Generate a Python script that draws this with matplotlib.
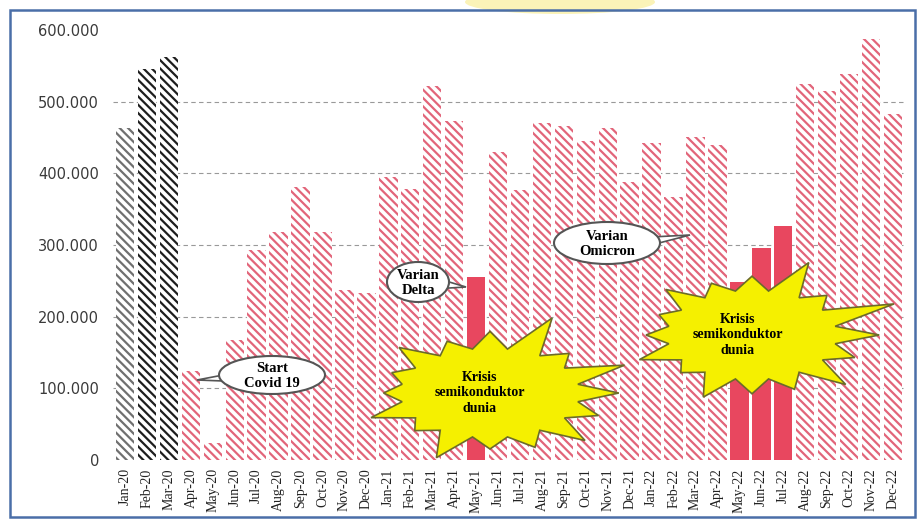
import numpy as np
import matplotlib
matplotlib.use('Agg')
import matplotlib.pyplot as plt
from matplotlib.patches import Ellipse, Polygon, Rectangle

# --- data ---
months = ['Jan-20', 'Feb-20', 'Mar-20', 'Apr-20', 'May-20', 'Jun-20', 'Jul-20', 'Aug-20', 'Sep-20',
          'Oct-20', 'Nov-20', 'Dec-20', 'Jan-21', 'Feb-21', 'Mar-21', 'Apr-21', 'May-21', 'Jun-21',
          'Jul-21', 'Aug-21', 'Sep-21', 'Oct-21', 'Nov-21', 'Dec-21', 'Jan-22', 'Feb-22', 'Mar-22',
          'Apr-22', 'May-22', 'Jun-22', 'Jul-22', 'Aug-22', 'Sep-22', 'Oct-22', 'Nov-22', 'Dec-22']
sales = [463000, 545000, 562000, 124000, 24000, 168000, 293000, 318000, 381000,
         318000, 237000, 233000, 395000, 378000, 522000, 473000, 255000, 430000,
         377000, 470000, 466000, 445000, 463000, 388000, 443000, 367000, 451000,
         440000, 248000, 296000, 327000, 524000, 515000, 538000, 588000, 483000]
# bar style group: 'grey', 'black', 'pink' (hatched) or 'solid'
group = ['grey', 'black', 'black'] + ['pink'] * 13 + ['solid'] + ['pink'] * 11 + ['solid'] * 3 + ['pink'] * 5
yticks = [0, 100000, 200000, 300000, 400000, 500000, 600000]
ytick_labels = ['0', '100.000', '200.000', '300.000', '400.000', '500.000', '600.000']

W, H = 917, 519
plt.rcParams['hatch.linewidth'] = 1.6
fig = plt.figure(figsize=(W / 100, H / 100), dpi=100)
ax = fig.add_axes([113 / W, 1 - 460 / H, (905 - 113) / W, (460 - 30) / H])

styles = {
    'grey': dict(facecolor='white', edgecolor='#707070', hatch='\\\\\\\\'),
    'black': dict(facecolor='white', edgecolor='#1e1e1e', hatch='\\\\\\\\'),
    'pink': dict(facecolor='white', edgecolor='#e2657a', hatch='\\\\\\\\'),
    'solid': dict(facecolor='#e8475f', edgecolor='#e8475f', hatch=None),
}
x = np.arange(len(months))
for xi, v, g in zip(x, sales, group):
    ax.bar(xi, v, width=0.84, linewidth=0, zorder=2, **styles[g])

ax.set_xlim(-0.55, len(months) - 0.45)
ax.set_ylim(0, 600000)
ax.set_yticks(yticks)
ax.set_yticklabels(ytick_labels, fontsize=10.5, color='#3a3a3a', family='DejaVu Sans')
ax.set_xticks(x)
ax.set_xticklabels(months, rotation=90, fontsize=10, family='Liberation Serif', color='#222222')
ax.tick_params(length=0)
ax.tick_params(axis='y', pad=10)
ax.tick_params(axis='x', pad=6)
for s in ax.spines.values():
    s.set_visible(False)
for yv in yticks[1:-1]:
    ax.axhline(yv, color='#999999', linestyle=(0, (4, 3)), linewidth=0.8, zorder=1)


# --- annotation shapes, placed in figure pixels ---
def px(xp, yp):
    return (xp / W, 1 - yp / H)


def bubble(cx, cy, w, h, tip, text):
    bx, by = tip
    tail = Polygon([px(cx + (bx - cx) * 0.3, cy - 5), px(bx, by), px(cx + (bx - cx) * 0.3, cy + 7)],
                   closed=True, transform=fig.transFigure, facecolor='white',
                   edgecolor='#555555', linewidth=1.2, zorder=5)
    fig.add_artist(tail)
    ell = Ellipse(px(cx, cy), w / W, h / H, transform=fig.transFigure, facecolor='white',
                  edgecolor='#555555', linewidth=1.5, zorder=6)
    fig.add_artist(ell)
    fig.text(*px(cx, cy + 1), text, ha='center', va='center', fontsize=10.5, fontweight='bold',
             family='Liberation Serif', linespacing=1.15, zorder=7)


def starburst(cx, cy, rx, ry, outer, text, inner=0.8, tx=0):
    n = len(outer)
    pts = []
    for i in range(n):
        a = 2 * np.pi * i / n
        pts.append(px(cx + rx * outer[i] * np.cos(a), cy - ry * outer[i] * np.sin(a)))
        a2 = a + np.pi / n
        pts.append(px(cx + rx * inner * np.cos(a2), cy - ry * inner * np.sin(a2)))
    star = Polygon(pts, closed=True, transform=fig.transFigure, facecolor='#f5f000',
                   edgecolor='#6b6b2a', linewidth=1.2, zorder=5)
    fig.add_artist(star)
    fig.text(*px(cx + tx, cy), text, ha='center', va='center', fontsize=10, fontweight='bold',
             family='Liberation Serif', linespacing=1.25, zorder=7)


bubble(272, 375, 106, 38, (197, 380), 'Start\nCovid 19')
bubble(418, 282, 62, 40, (466, 287), 'Varian\nDelta')
bubble(607, 243, 106, 42, (690, 235), 'Varian\nOmicron')

star1 = [1.15, 1.3, 1.0, 1.45, 1.1, 1.0, 1.15, 0.95, 0.95, 1.15, 0.95, 1.25, 1.0, 1.05, 1.2, 1.05]
starburst(490, 393, 112, 56, star1, 'Krisis\nsemikonduktor\ndunia', tx=-10)
star2 = [1.2, 1.45, 1.0, 1.4, 1.05, 1.0, 1.15, 0.95, 1.0, 1.15, 0.95, 1.2, 1.05, 1.05, 1.25, 1.05]
starburst(752, 335, 106, 56, star2, 'Krisis\nsemikonduktor\ndunia', tx=-14)

# faint yellow watermark at top and blue frame
fig.add_artist(Ellipse(px(560, 2), 190 / W, 24 / H, transform=fig.transFigure,
                       facecolor='#fbf3b8', edgecolor='none', zorder=0))
fig.add_artist(Rectangle(px(10, 517), 905 / W, 507 / H, transform=fig.transFigure,
                         fill=False, edgecolor='#4a6ea8', linewidth=1.8, zorder=8))

fig.savefig('out.png', dpi=100)
